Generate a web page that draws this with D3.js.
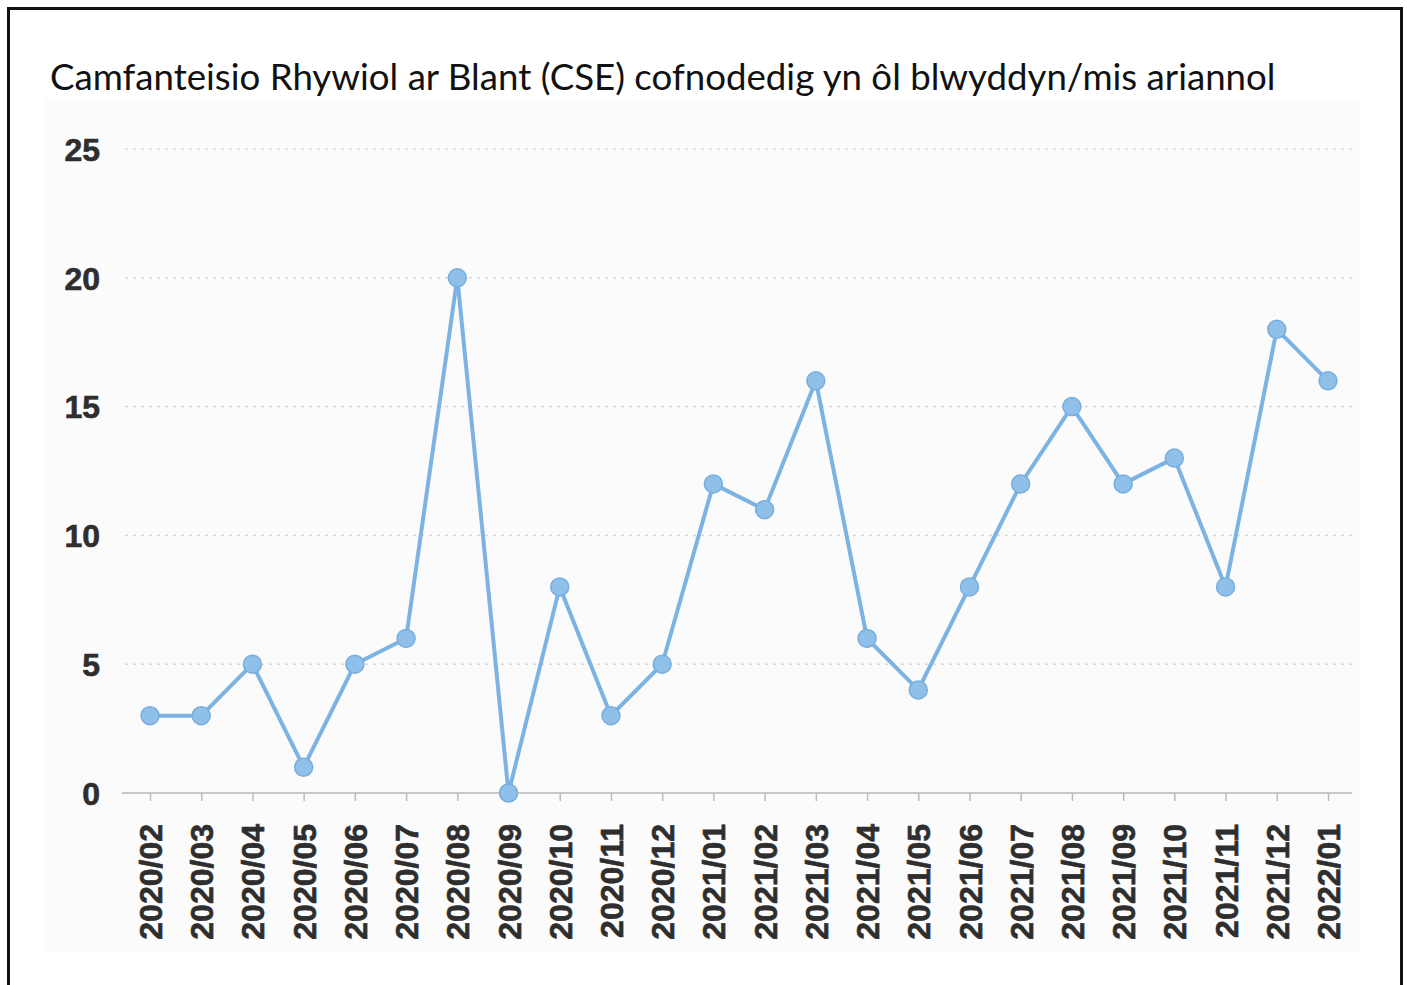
<!DOCTYPE html>
<html><head><meta charset="utf-8">
<script src="https://cdn.jsdelivr.net/npm/d3@7"></script>
<style>html,body{margin:0;padding:0;background:#fff;}svg{display:block;}</style>
</head><body>
<svg id="c" width="1407" height="985"></svg>
<script>
const titleText = "Camfanteisio Rhywiol ar Blant (CSE) cofnodedig yn ôl blwyddyn/mis ariannol";
const months = ["2020/02","2020/03","2020/04","2020/05","2020/06","2020/07","2020/08","2020/09","2020/10","2020/11","2020/12","2021/01","2021/02","2021/03","2021/04","2021/05","2021/06","2021/07","2021/08","2021/09","2021/10","2021/11","2021/12","2022/01"];
const cseCounts = [3,3,5,1,5,6,20,0,8,3,5,12,11,16,6,4,8,12,15,12,13,8,18,16];
const yTicks = [0,5,10,15,20,25];

const svg = d3.select("#c");
// outer frame
svg.append("rect").attr("x",8.5).attr("y",8.5).attr("width",1393).attr("height",1000)
  .attr("fill","#fff").attr("stroke","#111").attr("stroke-width",3);
// faint plot background
svg.append("rect").attr("x",45).attr("y",100).attr("width",1315).attr("height",852).attr("fill","#fbfbfb");

const t = svg.append("text").attr("x",50).attr("y",90).text(titleText)
  .attr("font-family","Lato, 'Open Sans', sans-serif").attr("font-size",30).attr("fill","#111");
const tw = t.node().getComputedTextLength();
t.attr("font-size", 30*1226/tw);

const x = d3.scalePoint().domain(months).range([150,1328]);
const y = d3.scaleLinear().domain([0,25]).range([793,149]);

// grid
svg.append("g").selectAll("line").data(yTicks.filter(d=>d>0)).join("line")
  .attr("x1",125).attr("x2",1352).attr("y1",d=>y(d)).attr("y2",d=>y(d))
  .attr("stroke","#d8d8d8").attr("stroke-width",1.5).attr("stroke-dasharray","3,5");

// y axis labels
const ya = svg.append("g").attr("transform","translate(100,0)")
  .call(d3.axisLeft(y).tickValues(yTicks).tickSize(0).tickPadding(0));
ya.select(".domain").remove();
ya.selectAll("text").attr("font-family","'Liberation Sans', Arial, sans-serif").attr("font-weight","bold")
  .attr("font-size",32).attr("fill","#2e2e2e").attr("dy","0.35em")
  .attr("stroke","#2e2e2e").attr("stroke-width",0.6);

// x axis
const xa = svg.append("g").attr("transform","translate(0,793)")
  .call(d3.axisBottom(x).tickSize(8).tickPadding(0));
xa.select(".domain").attr("d","M122,0H1352").attr("stroke","#c8c8c8").attr("stroke-width",2);
xa.selectAll(".tick line").attr("stroke","#bbb").attr("stroke-width",1.5);
xa.selectAll(".tick text").attr("font-family","'Liberation Sans', Arial, sans-serif").attr("font-weight","bold")
  .attr("font-size",32).attr("fill","#2e2e2e").attr("stroke","#2e2e2e").attr("stroke-width",0.6)
  .attr("transform","rotate(-90)").attr("text-anchor","end").attr("x",-31).attr("y",0).attr("dy","0.36em");

// line
svg.append("path").datum(cseCounts)
  .attr("d", d3.line().x((d,i)=>x(months[i])).y(d=>y(d)))
  .attr("fill","none").attr("stroke","#7db3e3").attr("stroke-width",4);
svg.append("g").selectAll("circle").data(cseCounts).join("circle")
  .attr("cx",(d,i)=>x(months[i])).attr("cy",d=>y(d)).attr("r",9)
  .attr("fill","#8ec0ea").attr("stroke","#78aedc").attr("stroke-width",1.5);
</script>
</body></html>
